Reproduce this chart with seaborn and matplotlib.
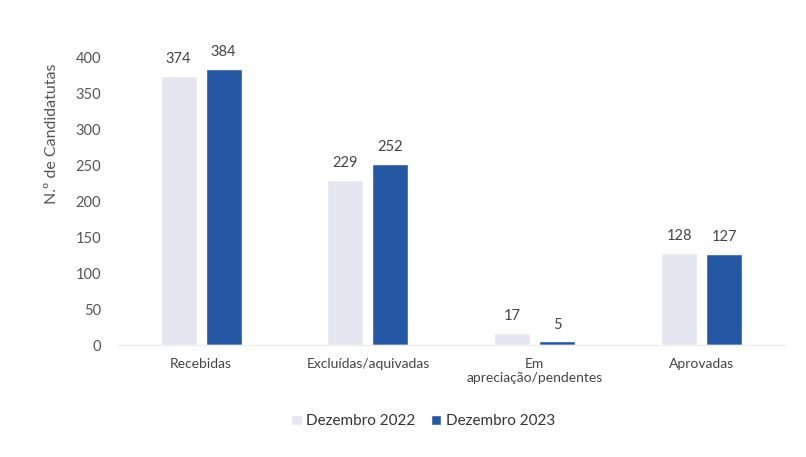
import matplotlib
matplotlib.use("Agg")
import matplotlib.pyplot as plt
import seaborn as sns
import pandas as pd

categories = ["Recebidas", "Excluídas/aquivadas", "Em\napreciação/pendentes", "Aprovadas"]
series_names = ["Dezembro 2022", "Dezembro 2023"]
values_2022 = [374, 229, 17, 128]
values_2023 = [384, 252, 5, 127]
y_ticks = [0, 50, 100, 150, 200, 250, 300, 350, 400]

df = pd.DataFrame({
    "categoria": categories * 2,
    "periodo": [series_names[0]] * len(categories) + [series_names[1]] * len(categories),
    "valor": values_2022 + values_2023,
})

sns.set_theme(style="white")
plt.rcParams["font.family"] = ["Lato", "DejaVu Sans"]

fig = plt.figure(figsize=(8.06, 4.57), dpi=100)
ax = fig.add_axes([0.146, 0.245, 0.828, 0.63])

palette = {series_names[0]: "#E6E6F3", series_names[1]: "#2457A4"}
sns.barplot(data=df, x="categoria", y="valor", hue="periodo", order=categories,
            hue_order=series_names, palette=palette, width=0.54, gap=0.2,
            saturation=1, ax=ax, legend=True)

for cont in ax.containers:
    ax.bar_label(cont, fmt="%d", padding=7, fontsize=10.5, color="#444444")

ax.set_xlim(-0.5, 3.5)
ax.set_ylim(0, 400)
ax.set_yticks(y_ticks)
ax.set_yticklabels([str(t) for t in y_ticks])
ax.tick_params(axis="y", labelsize=10.5, labelcolor="#555555", length=0, pad=12)
ax.tick_params(axis="x", labelsize=10, labelcolor="#444444", length=0, pad=9)
ax.set_xlabel("")
ax.set_ylabel("N.º de Candidatutas", fontsize=11.5, color="#555555")
ax.yaxis.set_label_coords(-0.088, 0.735)

for s in ["top", "right", "left"]:
    ax.spines[s].set_visible(False)
ax.spines["bottom"].set_color("#EEEEEE")
ax.spines["bottom"].set_linewidth(1.0)
ax.grid(False)

handles, labels = ax.get_legend_handles_labels()
ax.legend_.remove()
fig.legend(handles, labels, loc="center", bbox_to_anchor=(0.525, 0.078), ncol=2,
           frameon=False, fontsize=11, handlelength=0.7, handleheight=0.7,
           handletextpad=0.3, columnspacing=1.0, labelcolor="#333333")

fig.savefig("out.png", dpi=100, facecolor="white")
